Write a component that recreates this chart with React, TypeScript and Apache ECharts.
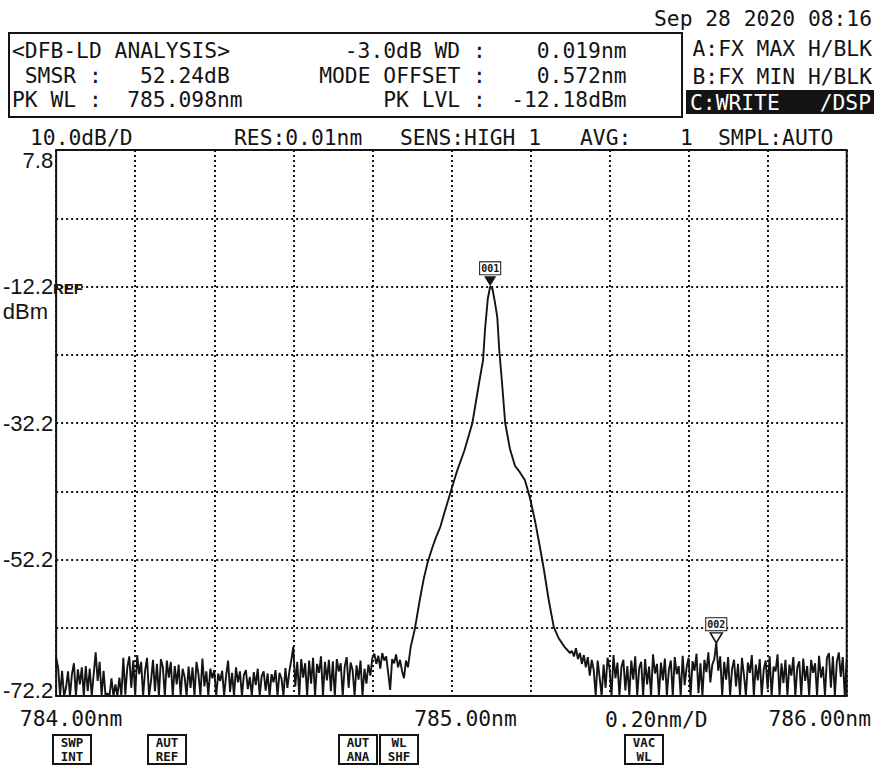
import React, { useEffect, useRef } from "react";
import * as echarts from "echarts";

// ---------- axis definitions ----------
const WL_MIN = 784.0;
const WL_MAX = 786.0;
const WL_DIV = 0.2;
const LVL_MIN = -72.2;
const LVL_MAX = 7.8;
const LVL_DIV = 10;

const xTickValues = [784.0, 785.0, 786.0];
const xTickLabels = ["784.00nm", "785.00nm", "786.00nm"];
const yTickLabels = ["7.8", "-12.2", "-32.2", "-52.2", "-72.2"];

// ---------- trace data (dBm) ----------
const noiseStep = 0.005;
const leftNoiseStart = 784.0;
const leftNoise = [
  -66.6, -68.0, -72.2, -68.5, -72.2, -71.0, -68.6, -72.2, -69.0, -67.4,
  -72.2, -68.3, -70.5, -68.0, -72.2, -67.8, -71.5, -68.2, -72.2, -69.0,
  -65.8, -70.0, -67.2, -72.2, -68.5, -72.2, -71.8, -72.2, -69.6, -72.2,
  -70.5, -72.2, -69.5, -72.2, -66.6, -72.0, -68.0, -66.4, -71.0, -67.0,
  -72.2, -66.2, -69.0, -67.2, -72.2, -68.5, -66.6, -72.2, -70.0, -66.9,
  -71.5, -67.5, -72.2, -66.8, -68.0, -72.2, -67.0, -69.5, -67.2, -72.2,
  -67.8, -70.5, -67.6, -72.2, -68.2, -69.4, -72.2, -67.9, -71.0, -68.0,
  -72.2, -67.2, -69.0, -72.2, -66.7, -70.8, -68.6, -72.2, -68.2, -69.6,
  -68.4, -72.2, -68.9, -70.0, -68.5, -72.2, -69.2, -67.0, -71.6, -68.8,
  -72.2, -68.0, -70.2, -68.6, -72.2, -69.1, -68.4, -71.2, -69.4, -72.2,
  -68.7, -70.6, -68.2, -72.2, -69.3, -68.6, -71.4, -68.9, -72.2, -69.0,
  -70.2, -68.4, -72.2, -68.8, -69.6, -72.2, -68.1, -71.0, -68.6, -66.9,
  -65.0, -70.8, -67.2, -72.2, -66.8, -69.5, -67.4, -72.2, -67.0, -70.4,
  -66.6, -72.2, -67.5, -68.8, -66.4, -72.2, -67.2, -69.9, -66.9, -71.5,
  -67.1, -72.2, -66.8, -68.6, -67.4, -72.2, -67.9, -66.5, -71.0, -67.3,
  -68.4, -72.2, -67.7, -69.8, -67.0, -72.2, -68.2, -70.4, -67.6, -69.2,
  -66.6, -66.0, -67.5, -66.3, -68.2, -65.9, -67.0, -66.4, -68.8, -71.3,
  -66.8, -67.4, -66.1, -68.0, -66.9, -68.5, -69.6, -67.0,
];

const peakWl = [
  784.89, 784.897, 784.907, 784.92, 784.93, 784.94, 784.952, 784.962, 784.972,
  784.982, 784.997, 785.015, 785.033, 785.053, 785.07, 785.08, 785.085, 785.092,
  785.098, 785.104, 785.11, 785.116, 785.121, 785.128, 785.136, 785.148, 785.161,
  785.173, 785.186, 785.198, 785.211, 785.224, 785.234, 785.246, 785.259, 785.271,
  785.286, 785.3,
];
const peakLevel = [
  -68.0, -65.0, -62.5, -58.1, -55.0, -52.6, -50.4, -48.8, -47.4,
  -45.4, -42.5, -39.1, -36.2, -32.2, -26.3, -23.0, -18.5, -14.0,
  -12.18, -12.6, -14.5, -16.7, -21.5, -26.3, -32.2, -36.0, -38.5,
  -39.4, -40.6, -43.0, -46.4, -50.4, -53.7, -58.1, -62.1, -63.7,
  -65.0, -65.9,
];

const rightNoiseStart = 785.305;
const rightNoise = [
  -65.6, -66.4, -65.2, -66.8, -65.9, -67.5, -66.2, -68.0, -66.5, -69.2,
  -66.9, -68.4, -72.2, -67.0, -69.5, -72.2, -67.6, -71.0, -66.6, -68.2,
  -72.2, -66.2, -69.6, -67.3, -72.2, -68.0, -66.9, -71.4, -67.8, -72.2,
  -67.0, -69.8, -66.4, -72.2, -68.1, -67.2, -72.2, -66.8, -70.5, -67.9,
  -72.2, -66.1, -68.9, -67.5, -72.2, -67.3, -69.9, -66.7, -72.2, -68.4,
  -67.0, -72.2, -66.5, -69.0, -67.8, -72.2, -66.3, -70.6, -68.0, -66.6,
  -72.2, -67.1, -68.5, -66.0, -71.8, -67.4, -72.2, -66.9, -68.7, -65.8,
  -70.2, -67.6, -66.8, -64.42, -68.5, -66.4, -72.2, -67.2, -69.8, -66.5,
  -72.2, -68.2, -66.9, -70.8, -67.5, -72.2, -66.6, -69.1, -72.2, -67.3,
  -68.8, -66.2, -72.2, -67.6, -69.9, -66.8, -72.2, -68.3, -67.0, -71.2,
  -66.4, -72.2, -67.9, -68.6, -66.1, -72.2, -67.4, -70.3, -66.9, -72.2,
  -67.6, -69.2, -66.5, -72.2, -68.0, -67.1, -72.2, -66.7, -70.0, -67.8,
  -72.2, -66.9, -68.8, -67.4, -72.2, -66.3, -69.5, -67.9, -72.2, -66.6,
  -65.9, -71.0, -66.4, -72.2, -67.2, -65.8, -69.4, -66.5, -72.2, -66.9,
];

const markerNames = ["001", "002"];
const markerWl = [785.098, 785.67];
const markerLevel = [-12.18, -64.42];
const markerFilled = [true, false];

// ---------- texts ----------
const dateStamp = "Sep 28 2020 08:16";
const headerLines: [number, string][][] = [
  [[0, "<DFB-LD ANALYSIS>"], [26, "-3.0dB WD :"], [41, "0.019nm"]],
  [[1, "SMSR :"], [10, "52.24dB"], [24, "MODE OFFSET :"], [41, "0.572nm"]],
  [[0, "PK WL :"], [9, "785.098nm"], [29, "PK LVL :"], [39, "-12.18dBm"]],
];
const traceModes = ["A:FX MAX H/BLK", "B:FX MIN H/BLK"];
const writeMode = ["C:WRITE", "/DSP"];
const settingsRow: [number, string][] = [
  [30, "10.0dB/D"],
  [234, "RES:0.01nm"],
  [400, "SENS:HIGH 1"],
  [580, "AVG:"],
  [680, "1"],
  [718, "SMPL:AUTO"],
];
const spanLabel = "0.20nm/D";
const softKeys: [number, number, string, string][] = [
  [53, 38, "SWP", "INT"],
  [148, 38, "AUT", "REF"],
  [339, 38, "AUT", "ANA"],
  [380, 38, "WL", "SHF"],
  [625, 38, "VAC", "WL"],
];

const MONO = "'DejaVu Sans Mono', 'Liberation Mono', monospace";
const NARROW = "'Liberation Sans Narrow', 'Liberation Sans', Arial, sans-serif";
const INK = "#141414";

function txt(text: string, x: number, y: number, o: any = {}) {
  return {
    type: "text",
    x,
    y,
    silent: true,
    style: {
      text,
      fill: o.fill || INK,
      fontSize: o.fontSize || 21.3,
      fontFamily: o.fontFamily || MONO,
      fontWeight: o.fontWeight || "normal",
      lineHeight: o.lineHeight,
      align: o.align || "left",
      verticalAlign: "middle",
      textAlign: o.align || "left",
      textVerticalAlign: "middle",
    },
  };
}

export default function App() {
  const ref = useRef<HTMLDivElement>(null);

  useEffect(() => {
    if (!ref.current) return;
    const chart = echarts.init(ref.current, undefined, { renderer: "svg" });

    const trace: [number, number][] = [
      ...leftNoise.map((v, i) => [+(leftNoiseStart + i * noiseStep).toFixed(3), v] as [number, number]),
      ...peakWl.map((w, i) => [w, peakLevel[i]] as [number, number]),
      ...rightNoise.map((v, i) => [+(rightNoiseStart + i * noiseStep).toFixed(3), v] as [number, number]),
    ];

    const graphics: any[] = [];
    graphics.push(txt(dateStamp, 872, 18, { align: "right" }));
    graphics.push({
      type: "rect",
      silent: true,
      shape: { x: 9, y: 33, width: 673, height: 84 },
      style: { fill: "none", stroke: INK, lineWidth: 2 },
    });
    const lineY = [50, 75, 99];
    headerLines.forEach((line, li) => {
      line.forEach(([col, s]) => graphics.push(txt(s, 12 + col * 12.8, lineY[li])));
    });
    graphics.push(txt(traceModes[0], 872, 48, { align: "right" }));
    graphics.push(txt(traceModes[1], 872, 76, { align: "right" }));
    graphics.push({
      type: "rect",
      silent: true,
      shape: { x: 686, y: 90, width: 188, height: 24 },
      style: { fill: INK },
    });
    graphics.push(txt(writeMode[0], 690, 102, { fill: "#fff" }));
    graphics.push(txt(writeMode[1], 871, 102, { fill: "#fff", align: "right" }));
    settingsRow.forEach(([x, s]) => graphics.push(txt(s, x, 137)));
    graphics.push(txt(spanLabel, 605, 719));
    graphics.push(txt("REF", 53, 288, { fontFamily: "'Liberation Sans', Arial, sans-serif", fontSize: 15, fontWeight: "bold" }));
    graphics.push(txt("dBm", 48, 311, { fontFamily: NARROW, fontSize: 22, align: "right" }));
    softKeys.forEach(([x, w, a, b]) => {
      graphics.push({
        type: "rect",
        silent: true,
        shape: { x, y: 735, width: w, height: 29 },
        style: { fill: "none", stroke: INK, lineWidth: 2 },
      });
      graphics.push(txt(a, x + w / 2, 742, { align: "center", fontSize: 12.5, fontWeight: "bold", lineHeight: 12 }));
      graphics.push(txt(b, x + w / 2, 756, { align: "center", fontSize: 12.5, fontWeight: "bold", lineHeight: 12 }));
    });

    const tri = "path://M0,0 L10,0 L5,10 Z";

    const option: any = {
      animation: false,
      backgroundColor: "#fff",
      grid: {
        left: 51,
        right: 27,
        top: 150,
        bottom: 71,
        show: true,
        borderColor: INK,
        borderWidth: 2,
        backgroundColor: "transparent",
      },
      xAxis: {
        type: "value",
        min: WL_MIN,
        max: WL_MAX,
        interval: WL_DIV,
        axisLine: { show: false },
        axisTick: { show: false },
        splitLine: { show: true, lineStyle: { color: INK, width: 2, type: [2, 3] } },
        axisLabel: {
          margin: 12,
          showMinLabel: true,
          showMaxLabel: true,
          hideOverlap: false,
          color: INK,
          fontFamily: MONO,
          fontSize: 21.3,
          formatter: (v: number) => {
            const k = xTickValues.findIndex((t) => Math.abs(t - v) < 1e-6);
            if (k < 0) return "";
            return `{l${k}|${xTickLabels[k]}}`;
          },
          rich: {
            l0: { fontFamily: MONO, fontSize: 21.3, color: INK, padding: [0, 0, 0, 30] },
            l1: { fontFamily: MONO, fontSize: 21.3, color: INK, padding: [0, 0, 0, 28] },
            l2: { fontFamily: MONO, fontSize: 21.3, color: INK, padding: [0, 54, 0, 0] },
          },
        },
      },
      yAxis: {
        type: "value",
        min: LVL_MIN,
        max: LVL_MAX,
        interval: LVL_DIV,
        axisLine: { show: false },
        axisTick: { show: false },
        splitLine: { show: true, lineStyle: { color: INK, width: 2, type: [2, 3] } },
        axisLabel: {
          margin: 3,
          showMinLabel: true,
          showMaxLabel: true,
          color: INK,
          fontFamily: NARROW,
          fontSize: 22,
          formatter: (v: number) => {
            const s = v.toFixed(1);
            const k = yTickLabels.indexOf(s);
            if (k < 0) return "";
            if (k === 0) return `{top|${s}}`;
            if (k === yTickLabels.length - 1) return `{bot|${s}}`;
            return `{mid|${s}}`;
          },
          rich: {
            top: { fontFamily: NARROW, fontSize: 22, color: INK, padding: [20, 0, 0, 0] },
            mid: { fontFamily: NARROW, fontSize: 22, color: INK },
            bot: { fontFamily: NARROW, fontSize: 22, color: INK, padding: [0, 0, 12, 0] },
          },
        },
      },
      series: [
        {
          type: "line",
          data: trace,
          showSymbol: false,
          clip: true,
          silent: true,
          lineStyle: { color: INK, width: 1.9 },
          markPoint: {
            silent: true,
            data: markerNames.map((n, i) => ({
              name: n,
              coord: [markerWl[i], markerLevel[i]],
              symbol: tri,
              symbolSize: [12, 10],
              symbolOffset: [0, -5],
              itemStyle: markerFilled[i]
                ? { color: INK }
                : { color: "#fff", borderColor: INK, borderWidth: 1.5 },
              label: {
                show: true,
                formatter: n,
                position: "top",
                distance: 2,
                color: INK,
                fontFamily: MONO,
                fontSize: 10,
                fontWeight: "bold",
                borderColor: INK,
                borderWidth: 1,
                backgroundColor: "#fff",
                padding: [1, 1, 1, 1],
              },
            })),
          },
        },
      ],
      graphic: graphics,
    };

    chart.setOption(option);
    return () => chart.dispose();
  }, []);

  return (
    <div
      ref={ref}
      style={{ position: "fixed", left: 0, top: 0, width: 874, height: 767, background: "#fff" }}
    />
  );
}
